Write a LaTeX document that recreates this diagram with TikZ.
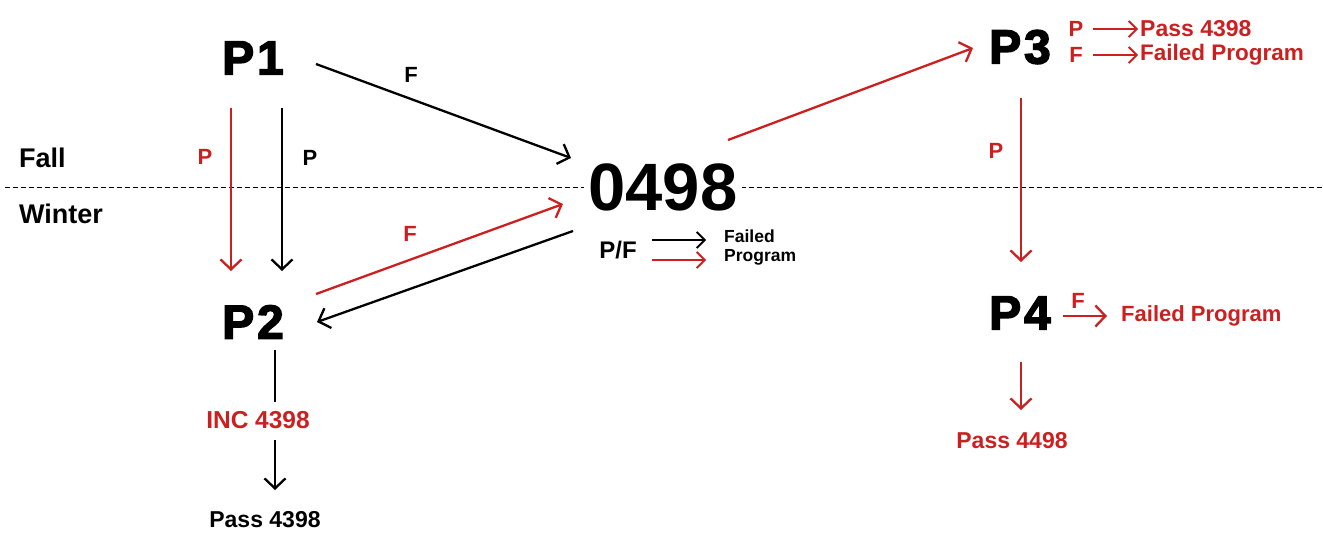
\documentclass[tikz,border=0pt]{standalone}
\usepackage{fontspec}
\setmainfont{Liberation Sans}
\newfontfamily\heavy[FakeBold=3,LetterSpace=6]{Liberation Sans Bold}
\usetikzlibrary{arrows.meta}
\definecolor{rd}{RGB}{204,32,32}
\tikzset{
  big/.style={font=\heavy\fontsize{48}{52}\selectfont, inner sep=0pt},
  lab/.style={font=\bfseries\fontsize{22}{24}\selectfont, inner sep=0pt},
  txt/.style={font=\bfseries\fontsize{23}{25}\selectfont, inner sep=0pt},
  arr/.style={-{Straight Barb[length=10pt,width=21pt,line width=2.3pt]}, line width=2.3pt},
  sarr/.style={-{Straight Barb[length=8pt,width=16pt,line width=1.8pt]}, line width=1.8pt},
}
\begin{document}
\begin{tikzpicture}[x=1pt,y=-1pt]
\useasboundingbox (0,0) rectangle (1323,539);
% dashed separator
\draw[line width=1pt, dash pattern=on 5pt off 3pt] (5,187) -- (1323,187);
\node[font=\bfseries\fontsize{27}{29}\selectfont, inner sep=0pt, anchor=west] (fall) at (19,158) {Fall};
\node[font=\bfseries\fontsize{27}{29}\selectfont, inner sep=0pt, anchor=west] (winter) at (19,214) {Winter};

% main nodes
\node[big] (p1) at (253,58) {P1};
\node[big] (p2) at (253,322) {P2};
\node[font=\bfseries\fontsize{67}{70}\selectfont, inner sep=4pt, fill=white] (c) at (663,187) {0498};
\node[big] (p3) at (1020,47) {P3};
\node[big] (p4) at (1020,313) {P4};

% coordinates for connector ends
\coordinate (p1r) at (231,108); \coordinate (p2r) at (231,271);
\coordinate (p1b) at (282,108); \coordinate (p2b) at (282,271);
\coordinate (p1e) at (316,64);  \coordinate (ci1) at (571,158);
\coordinate (p2e) at (316,294); \coordinate (ci2) at (563,204);
\coordinate (co2) at (573,231); \coordinate (p2e2) at (317,322);
\coordinate (co3) at (728,140); \coordinate (p3w) at (973,48);
\coordinate (p3s) at (1021,98); \coordinate (p4n) at (1021,262);

\draw[arr, draw=rd] (p1r) -- (p2r);
\node[lab, text=rd] (lp1) at (205,157) {P};
\draw[arr] (p1b) -- (p2b);
\node[lab] (lp2) at (310,158) {P};
\draw[arr] (p1e) -- (ci1);
\node[lab] (lf1) at (411,75) {F};
\draw[arr, draw=rd] (p2e) -- (ci2);
\node[lab, text=rd] (lf2) at (410,234) {F};
\draw[arr] (co2) -- (p2e2);
\draw[arr, draw=rd] (co3) -- (p3w);
\draw[arr, draw=rd] (p3s) -- (p4n);
\node[lab, text=rd] (lp3) at (996,151) {P};

% 0498 outcomes
\node[font=\bfseries\fontsize{24}{26}\selectfont, inner sep=0pt] (pf) at (618,250) {P/F};
\coordinate (a1s) at (652,240); \coordinate (a1e) at (706,240);
\coordinate (a2s) at (652,260); \coordinate (a2e) at (706,260);
\draw[sarr] (a1s) -- (a1e);
\draw[sarr, draw=rd] (a2s) -- (a2e);
\node[font=\bfseries\fontsize{17.5}{19}\selectfont, align=left, anchor=west, inner sep=0pt] (fp0) at (724,248) {Failed\\Program};

% P3 outcomes
\node[lab, text=rd] (p3p) at (1076,29) {P};
\node[lab, text=rd] (p3f) at (1076,55) {F};
\node[txt, text=rd, anchor=west] (pass3) at (1140,29) {Pass 4398};
\node[font=\bfseries\fontsize{22.5}{25}\selectfont, inner sep=0pt, text=rd, anchor=west] (fail3) at (1140,55) {Failed Program};
\draw[sarr, draw=rd, line width=1.5pt] (1093,29) coordinate (t1) -- ([xshift=-2pt]pass3.west);
\draw[sarr, draw=rd, line width=1.5pt] (1093,55) coordinate (t2) -- ([xshift=-2pt]fail3.west);

% P4 outcomes
\coordinate (p4e) at (1063,316);
\node[font=\bfseries\fontsize{22}{25}\selectfont, inner sep=0pt, text=rd, anchor=west] (fail4) at (1121,316) {Failed Program};
\draw[arr, draw=rd] (p4e) -- (1107,316) coordinate (p4ee);
\node[lab, text=rd] (p4f) at (1078,301) {F};
\coordinate (p4s) at (1021,362);
\node[txt, text=rd] (pass4) at (1012,441) {Pass 4498};
\draw[arr, draw=rd] (p4s) -- (1021,410) coordinate (p4pe);

% P2 outcomes
\coordinate (p2s) at (275,350);
\node[font=\bfseries\fontsize{24.5}{26}\selectfont, inner sep=0pt, text=rd] (inc) at (258,420) {INC 4398};
\draw[line width=2.3pt] (p2s) -- (275,402) coordinate (incn);
\coordinate (incs) at (275,440);
\node[font=\bfseries\fontsize{23}{25}\selectfont, inner sep=0pt] (pass2) at (265,520) {Pass 4398};
\draw[arr] (incs) -- (275,490) coordinate (pass2n);
\end{tikzpicture}
\end{document}
